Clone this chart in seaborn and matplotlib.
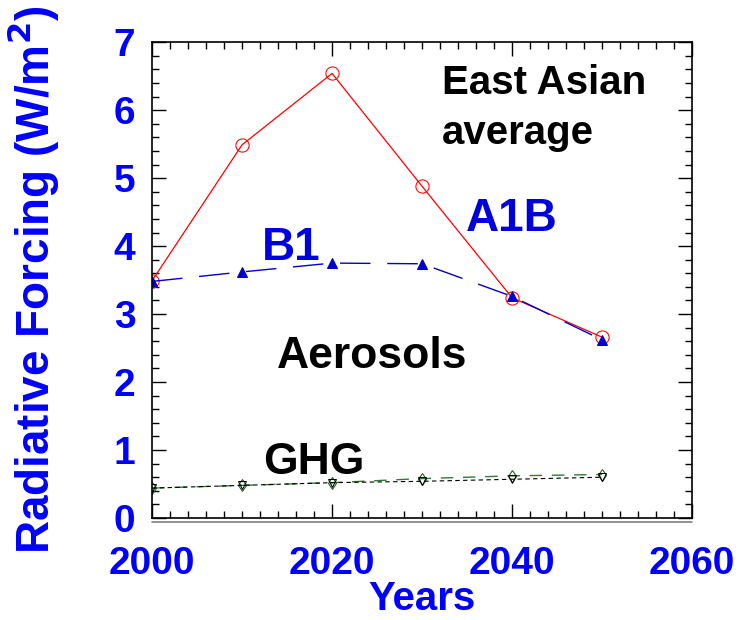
import numpy as np
import pandas as pd
import matplotlib
matplotlib.use("Agg")
import matplotlib.pyplot as plt
from matplotlib.ticker import MultipleLocator
import seaborn as sns

# data
years = [2000, 2010, 2020, 2030, 2040, 2050]
a1b_aer = [3.49, 5.49, 6.54, 4.88, 3.24, 2.66]
b1_aer = [3.48, 3.62, 3.75, 3.74, 3.26, 2.62]
ghg_b1 = [0.44, 0.48, 0.52, 0.54, 0.57, 0.60]
ghg_a1b = [0.44, 0.48, 0.52, 0.58, 0.62, 0.64]

sns.set_style("ticks")
plt.rcParams["font.family"] = ["Liberation Sans", "DejaVu Sans"]
plt.rcParams["font.weight"] = "bold"

df = pd.DataFrame({
    "Year": years * 4,
    "RF": a1b_aer + b1_aer + ghg_b1 + ghg_a1b,
    "series": ["A1B aer"] * 6 + ["B1 aer"] * 6 + ["B1 ghg"] * 6 + ["A1B ghg"] * 6,
})

fig = plt.figure(figsize=(7.49, 6.2), dpi=100)
ax = fig.add_axes([0.203, 0.1645, 0.721, 0.7675])

styles = {
    "A1B aer": dict(color="red", linestyle="-", marker="o", markersize=9.5,
                    markerfacecolor="none", markeredgecolor="red", linewidth=0.9),
    "B1 aer": dict(color="#0000cc", linestyle=(0, (22, 12)), marker="^", markersize=7,
                   markerfacecolor="#0000cc", markeredgecolor="#0000cc", linewidth=1.0),
    "A1B ghg": dict(color="#2e7d32", linestyle=(0, (9, 7)), marker="d", markersize=6,
                    markerfacecolor="none", markeredgecolor="#1b5e20", linewidth=1.0),
    "B1 ghg": dict(color="black", linestyle=(0, (4, 3)), marker="v", markersize=6,
                   markerfacecolor="none", markeredgecolor="black", linewidth=0.8),
}
for name, kw in styles.items():
    sns.lineplot(data=df[df["series"] == name], x="Year", y="RF", ax=ax,
                 legend=False, **kw)

ax.set_xlim(2000, 2060)
ax.set_ylim(0, 7)
ax.xaxis.set_major_locator(MultipleLocator(20))
ax.xaxis.set_minor_locator(MultipleLocator(2))
ax.yaxis.set_major_locator(MultipleLocator(1))
ax.yaxis.set_minor_locator(MultipleLocator(0.2))
ax.tick_params(which="both", direction="in", top=True, right=True,
               colors="black", labelcolor="blue", width=1)
ax.tick_params(which="major", length=10, labelsize=28)
ax.tick_params(which="minor", length=5)
ax.tick_params(axis="x", which="major", pad=20)
ax.tick_params(axis="y", which="major", pad=12)
for lab in ax.get_xticklabels() + ax.get_yticklabels():
    lab.set_fontweight("bold")
for sp in ax.spines.values():
    sp.set_linewidth(1.2)
    sp.set_color("black")

ax.set_xlabel("Years", fontsize=29, color="blue", fontweight="bold", labelpad=-1)
ax.set_ylabel("Radiative Forcing (W/m$^\\mathbf{2}$)", fontsize=33, color="blue",
              fontweight="bold", labelpad=38)

# faint second rule under the bottom axis
ax.plot([0, 1], [-0.009, -0.009], transform=ax.transAxes, color="gray",
        linewidth=1.2, clip_on=False)

ax.text(0.537, 0.955, "East Asian\naverage", transform=ax.transAxes, fontsize=29,
        fontweight="bold", color="black", va="top", ha="left", linespacing=1.4)
ax.text(0.582, 0.628, "A1B", transform=ax.transAxes, fontsize=33,
        fontweight="bold", color="#0000dd", va="center", ha="left")
ax.text(0.203, 0.567, "B1", transform=ax.transAxes, fontsize=33,
        fontweight="bold", color="#0000dd", va="center", ha="left")
ax.text(0.232, 0.34, "Aerosols", transform=ax.transAxes, fontsize=32,
        fontweight="bold", color="black", va="center", ha="left")
ax.text(0.205, 0.117, "GHG", transform=ax.transAxes, fontsize=32,
        fontweight="bold", color="black", va="center", ha="left")

fig.savefig("out.png", dpi=100)
